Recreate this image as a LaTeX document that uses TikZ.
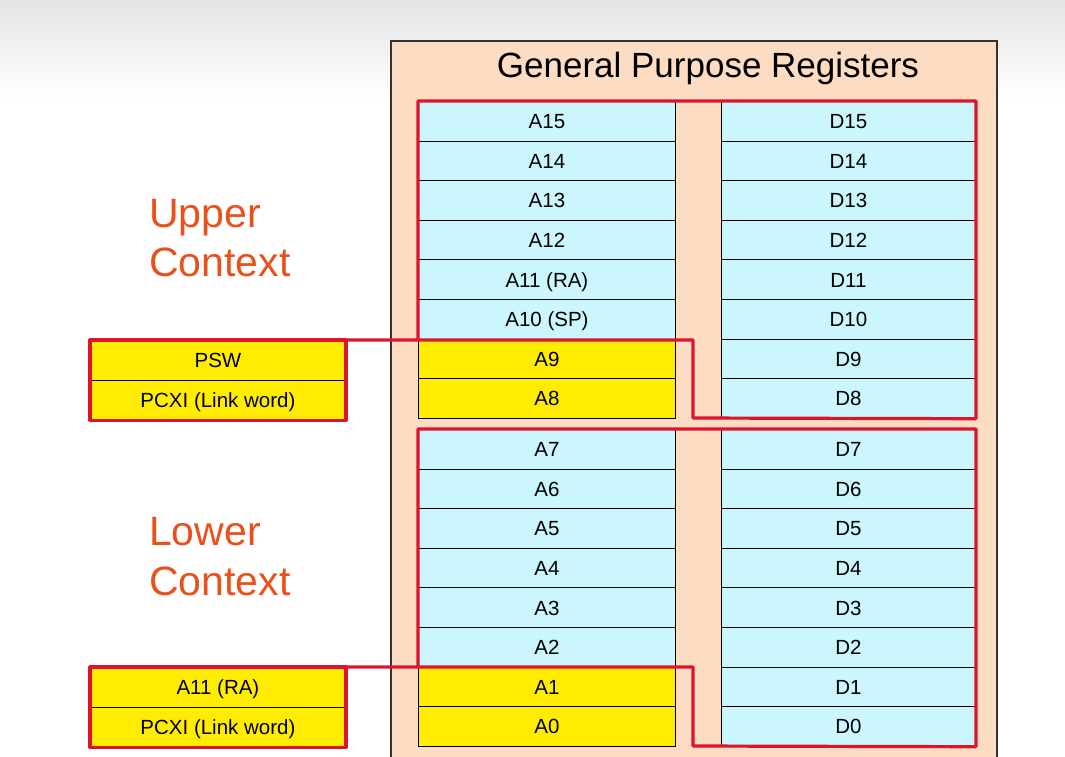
\documentclass[tikz,border=0pt]{standalone}
\usepackage{fontspec}
\setmainfont{Liberation Sans}
\definecolor{peach}{RGB}{252,221,196}
\definecolor{cyanc}{RGB}{204,246,253}
\definecolor{yel}{RGB}{255,236,0}
\definecolor{redl}{RGB}{222,20,45}
\definecolor{orng}{RGB}{234,80,28}
\definecolor{topgray}{RGB}{228,228,228}
\begin{document}
\begin{tikzpicture}[x=1pt,y=-1pt,
  cell/.style={draw=black,line width=0.9pt,minimum height=39.6pt,inner sep=0pt,
    text height=14.7pt,text depth=0pt,
    font=\fontsize{20.5}{20.5}\selectfont,anchor=north west},
  acell/.style={cell,fill=cyanc,minimum width=257pt},
  dcell/.style={cell,fill=cyanc,minimum width=254pt},
  ycell/.style={cell,fill=yel,minimum width=257pt},
  lcell/.style={cell,fill=yel,minimum width=255pt},
  ctx/.style={text=orng,font=\fontsize{41}{41}\selectfont,anchor=base west,inner sep=0pt},
  redline/.style={draw=redl,line width=3.2pt,line join=round,line cap=round}]
\useasboundingbox (0,0) rectangle (1065,756);
\fill[white] (0,0) rectangle (1065,756);
\shade[top color=topgray,bottom color=white] (0,0) rectangle (1065,100);
% outer box
\draw[fill=peach,draw=black!80,line width=1.5pt] (391,41) rectangle (997,770);
\node[font=\fontsize{35}{35}\selectfont,anchor=base,inner sep=0pt] (title) at (708,77) {General Purpose Registers};
% upper group
\foreach \i/\lab in {0/A15,1/A14,2/A13,3/A12,4/A11 (RA),5/A10 (SP)}
  \node[acell] (u\i) at (418,{101+39.6*\i}) {\lab};
\node[ycell] (a9) at (418,{101+39.6*6}) {A9};
\node[ycell] (a8) at (418,{101+39.6*7}) {A8};
\foreach \i/\lab in {0/D15,1/D14,2/D13,3/D12,4/D11,5/D10,6/D9,7/D8}
  \node[dcell] (d\i) at (721,{101+39.6*\i}) {\lab};
% lower group
\foreach \i/\lab in {0/A7,1/A6,2/A5,3/A4,4/A3,5/A2}
  \node[acell] (l\i) at (418,{429+39.6*\i}) {\lab};
\node[ycell] (a1) at (418,{429+39.6*6}) {A1};
\node[ycell] (a0) at (418,{429+39.6*7}) {A0};
\foreach \i/\lab in {0/D7,1/D6,2/D5,3/D4,4/D3,5/D2,6/D1,7/D0}
  \node[dcell] (e\i) at (721,{429+39.6*\i}) {\lab};
% left saved boxes
\node[lcell] (psw) at (90,340) {PSW};
\node[lcell] (pcxiu) at (90,379.6) {PCXI (Link word)};
\node[lcell] (ra) at (90,667) {A11 (RA)};
\node[lcell] (pcxil) at (90,706.6) {PCXI (Link word)};
% context labels
\node[ctx] (up1) at (149,227) {Upper};
\node[ctx] (up2) at (149,276) {Context};
\node[ctx] (lo1) at (149,545) {Lower};
\node[ctx] (lo2) at (149,595) {Context};
% red outlines upper
\coordinate (uk) at (693,340);
\coordinate (ub) at (693,418);
\draw[redline] (psw.north east) -- (uk) -- (ub) -- (d7.south east) -- (d0.north east) -- (u0.north west) -- (a9.north west);
\draw[redline] (psw.north west) rectangle (pcxiu.south east);
% red outlines lower
\coordinate (lk) at (693,667);
\coordinate (lb) at (693,746);
\draw[redline] (ra.north east) -- (lk) -- (lb) -- (e7.south east) -- (e0.north east) -- (l0.north west) -- (a1.north west);
\draw[redline] (ra.north west) rectangle (pcxil.south east);
\end{tikzpicture}
\end{document}
